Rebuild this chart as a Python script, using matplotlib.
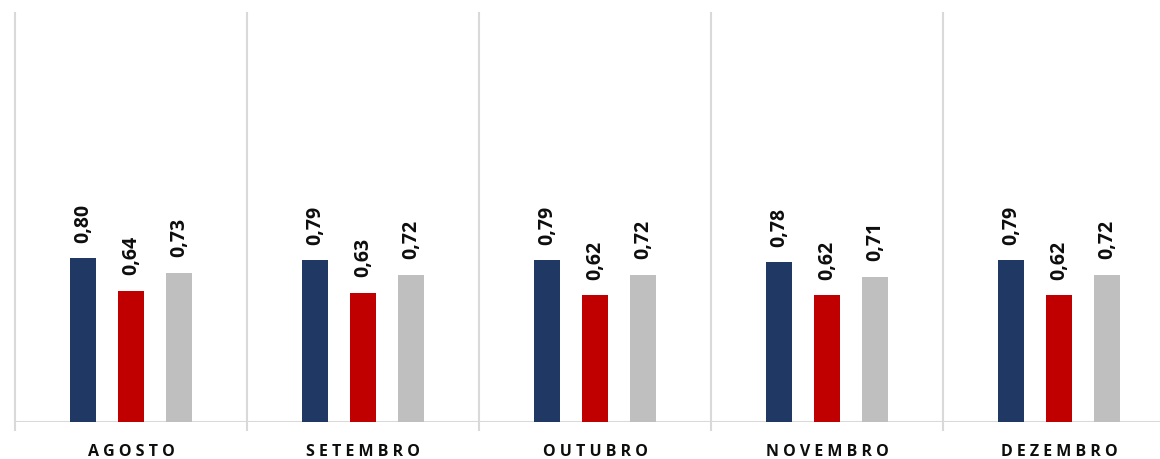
import numpy as np
import matplotlib.pyplot as plt

# Data
months = ["AGOSTO", "SETEMBRO", "OUTUBRO", "NOVEMBRO", "DEZEMBRO"]
serie_a = [0.80, 0.79, 0.79, 0.78, 0.79]
serie_b = [0.64, 0.63, 0.62, 0.62, 0.62]
serie_c = [0.73, 0.72, 0.72, 0.71, 0.72]

colors = ["#203864", "#C00000", "#BFBFBF"]
grid_color = "#D9D9D9"

fig = plt.figure(figsize=(11.6, 4.6), dpi=100)
# plot area spans past the right edge, like the original
ax = fig.add_axes([15 / 1160, 37 / 460, 1160 / 1160, 409 / 460])

x = np.arange(len(months))
width = 0.108
step = 0.207

for i, (vals, col) in enumerate(zip([serie_a, serie_b, serie_c], colors)):
    pos = x + (i - 1) * step
    bars = ax.bar(pos, vals, width=width, color=col, zorder=3)
    for b, v in zip(bars, vals):
        ax.annotate(f"{v:.2f}".replace(".", ","),
                    (b.get_x() + b.get_width() / 2, v),
                    xytext=(0, 12), textcoords="offset points",
                    rotation=90, ha="center", va="bottom",
                    fontsize=14, fontweight="bold", family="Open Sans",
                    color="#0D0D0D")

ax.set_xlim(-0.5, len(months) - 0.5)
ax.set_ylim(0, 2.0)

# vertical separators between months
for s in np.arange(len(months) + 1) - 0.5:
    ax.plot([s, s], [-0.04, 2.0], color=grid_color, lw=1.5,
            clip_on=False, zorder=1)
ax.axhline(0, color=grid_color, lw=1.5, zorder=2)

for spine in ax.spines.values():
    spine.set_visible(False)
ax.set_yticks([])
ax.set_xticks(x)
ax.set_xticklabels([" ".join(m) for m in months], fontsize=11.5,
                   fontweight="bold", family="Open Sans", color="#0D0D0D")
ax.tick_params(axis="x", length=0, pad=15)

fig.savefig("out.png", dpi=100)
